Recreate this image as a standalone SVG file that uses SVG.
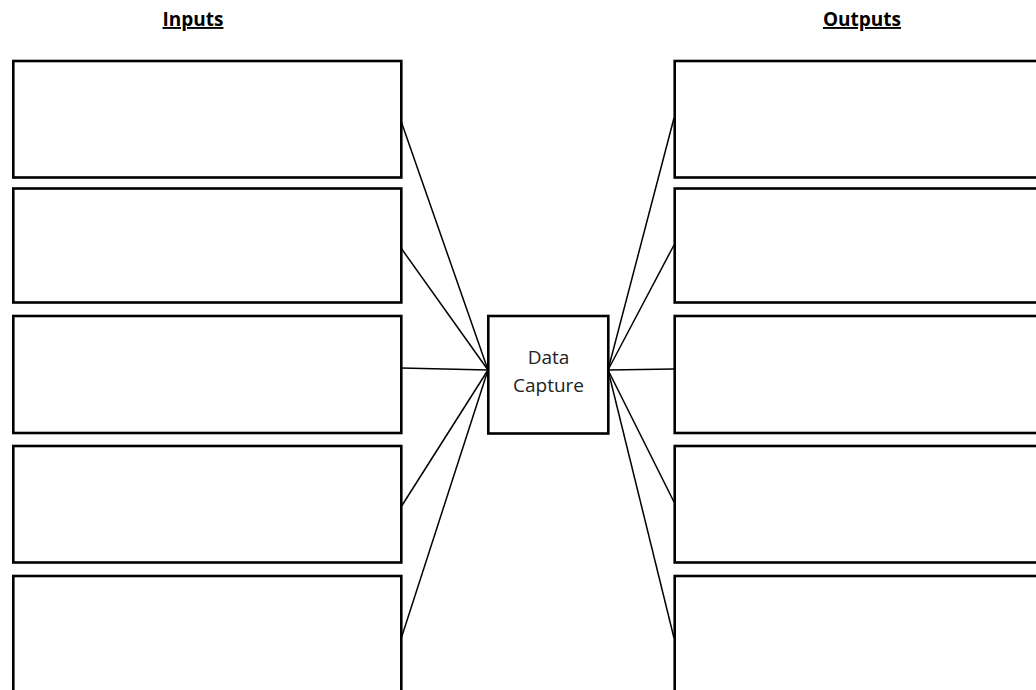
<svg xmlns="http://www.w3.org/2000/svg" width="1036" height="690" viewBox="0 0 1036 690">
<style>
.box{fill:#fff;stroke:#000;stroke-width:2.6}
.title{font-family:"Open Sans","Liberation Sans",sans-serif;font-weight:bold;font-size:19px;text-decoration:underline;fill:#000}
.lbl{font-family:"Open Sans","Liberation Sans",sans-serif;font-size:19px;fill:#222}
.conn line{stroke:#000;stroke-width:1.5}
</style>
<rect width="1036" height="690" fill="#fff"/>
<text class="title" x="193" y="26" text-anchor="middle">Inputs</text>
<text class="title" x="862" y="26" text-anchor="middle">Outputs</text>
<g class="conn" id="connectors">
<line x1="401" y1="121" x2="488" y2="370"/>
<line x1="401" y1="248" x2="488" y2="370"/>
<line x1="401" y1="368" x2="488" y2="370"/>
<line x1="401" y1="507" x2="488" y2="370"/>
<line x1="401" y1="639" x2="488" y2="370"/>
<line x1="674" y1="118" x2="608" y2="370"/>
<line x1="674" y1="245" x2="608" y2="370"/>
<line x1="674" y1="369" x2="608" y2="370"/>
<line x1="674" y1="502" x2="608" y2="370"/>
<line x1="674" y1="638" x2="608" y2="370"/>
</g>
<g id="in1"><rect class="box" x="13.3" y="61" width="388" height="116.5"/></g>
<g id="in2"><rect class="box" x="13.3" y="188.5" width="388" height="114"/></g>
<g id="in3"><rect class="box" x="13.3" y="316" width="388" height="117"/></g>
<g id="in4"><rect class="box" x="13.3" y="446" width="388" height="116.5"/></g>
<g id="in5"><rect class="box" x="13.3" y="576" width="388" height="130"/></g>
<g id="out1"><rect class="box" x="674.7" y="61" width="380" height="116.5"/></g>
<g id="out2"><rect class="box" x="674.7" y="188.5" width="380" height="114"/></g>
<g id="out3"><rect class="box" x="674.7" y="316" width="380" height="117"/></g>
<g id="out4"><rect class="box" x="674.7" y="446" width="380" height="116.5"/></g>
<g id="out5"><rect class="box" x="674.7" y="576" width="380" height="130"/></g>
<g id="capture">
<rect class="box" x="488.3" y="316" width="120" height="117.5"/>
<text class="lbl" x="548.5" y="364" text-anchor="middle">Data</text>
<text class="lbl" x="548.5" y="392" text-anchor="middle">Capture</text>
</g>
</svg>
